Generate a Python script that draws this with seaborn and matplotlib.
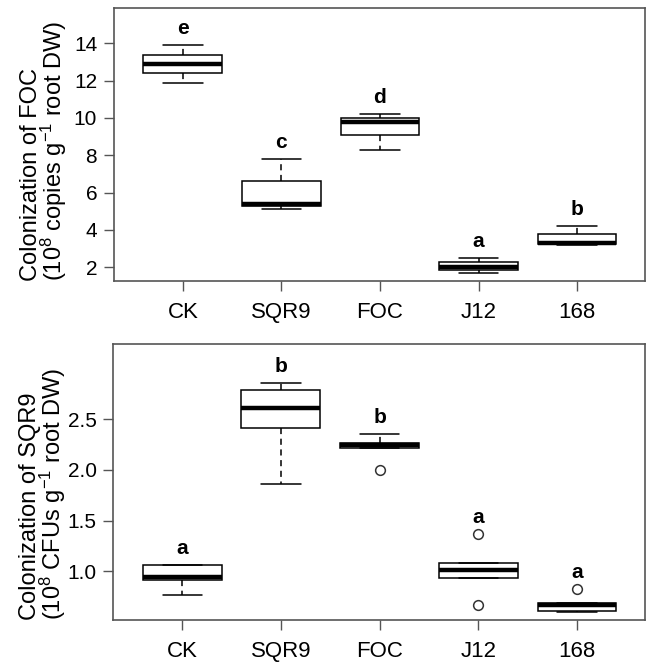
import numpy as np
import pandas as pd
import matplotlib
matplotlib.use('Agg')
import matplotlib.pyplot as plt
import seaborn as sns

groups = ['CK', 'SQR9', 'FOC', 'J12', '168']

foc_values = [
    [11.9, 12.4, 12.9, 13.4, 13.9],
    [5.1, 5.25, 5.4, 6.6, 7.8],
    [8.3, 9.1, 9.8, 10.0, 10.2],
    [1.7, 1.85, 2.0, 2.25, 2.5],
    [3.2, 3.25, 3.3, 3.75, 4.2],
]
foc_letters = ['e', 'c', 'd', 'a', 'b']

sqr9_values = [
    [0.76, 0.91, 0.94, 1.06, 1.06],
    [1.86, 2.41, 2.61, 2.79, 2.86],
    [2.00, 2.215, 2.245, 2.27, 2.35],
    [0.665, 0.93, 1.01, 1.08, 1.365],
    [0.60, 0.605, 0.67, 0.684, 0.82],
]
sqr9_letters = ['a', 'b', 'b', 'a', 'a']

foc_label = ['Colonization of FOC', r'(10$^8$ copies g$^{-1}$ root DW)']
sqr9_label = ['Colonization of SQR9', r'(10$^8$ CFUs g$^{-1}$ root DW)']

sns.set_style('ticks')
plt.rcParams['font.family'] = ['Liberation Sans', 'DejaVu Sans']
plt.rcParams['mathtext.default'] = 'regular'
plt.rcParams['text.color'] = 'black'


def to_frame(values):
    rows = []
    for g, vals in zip(groups, values):
        for v in vals:
            rows.append({'group': g, 'value': v})
    return pd.DataFrame(rows)


def draw_panel(ax, values, letters, label, ylim, yticks, fmt):
    df = to_frame(values)
    sns.boxplot(data=df, x='group', y='value', order=groups, width=0.8,
                color='white', linecolor='black', linewidth=1.1,
                whiskerprops=dict(linestyle=(0, (4, 3))),
                medianprops=dict(linewidth=3.2, color='black'),
                flierprops=dict(marker='o', markersize=7, markerfacecolor='none',
                                markeredgecolor='#333333', markeredgewidth=1.1),
                ax=ax)
    for i, (vals, letter) in enumerate(zip(values, letters)):
        ax.annotate(letter, (i, max(vals)), xytext=(0, 12), textcoords='offset points',
                    ha='center', va='center', fontweight='bold', fontsize=15,
                    color='black')
    ax.set_xlim(-0.7, 4.69)
    ax.set_ylim(*ylim)
    ax.set_yticks(yticks)
    ax.set_yticklabels([fmt % t for t in yticks])
    ax.set_xlabel('')
    ax.set_ylabel('')
    for s in ax.spines.values():
        s.set_visible(True)
        s.set_color('#555555')
        s.set_linewidth(1.2)
    ax.tick_params(axis='x', length=7, width=1, color='#555555', labelcolor='black',
                   labelsize=16, pad=8)
    ax.tick_params(axis='y', length=7, width=1, color='#555555', labelcolor='black',
                   labelsize=15, pad=5)
    ax.text(-0.131, 0.0, '\n'.join(label), transform=ax.transAxes, rotation=90,
            ha='center', va='bottom', multialignment='left', fontsize=17,
            linespacing=0.85, color='black')


fig = plt.figure(figsize=(6.47, 6.66), dpi=100)
ax1 = fig.add_axes([0.176, 0.578, 0.821, 0.410])
ax2 = fig.add_axes([0.175, 0.069, 0.822, 0.414])

draw_panel(ax1, foc_values, foc_letters, foc_label, (1.25, 15.9),
           [2, 4, 6, 8, 10, 12, 14], '%d')
draw_panel(ax2, sqr9_values, sqr9_letters, sqr9_label, (0.517, 3.24),
           [1.0, 1.5, 2.0, 2.5], '%.1f')

fig.savefig('out.png', dpi=100)
